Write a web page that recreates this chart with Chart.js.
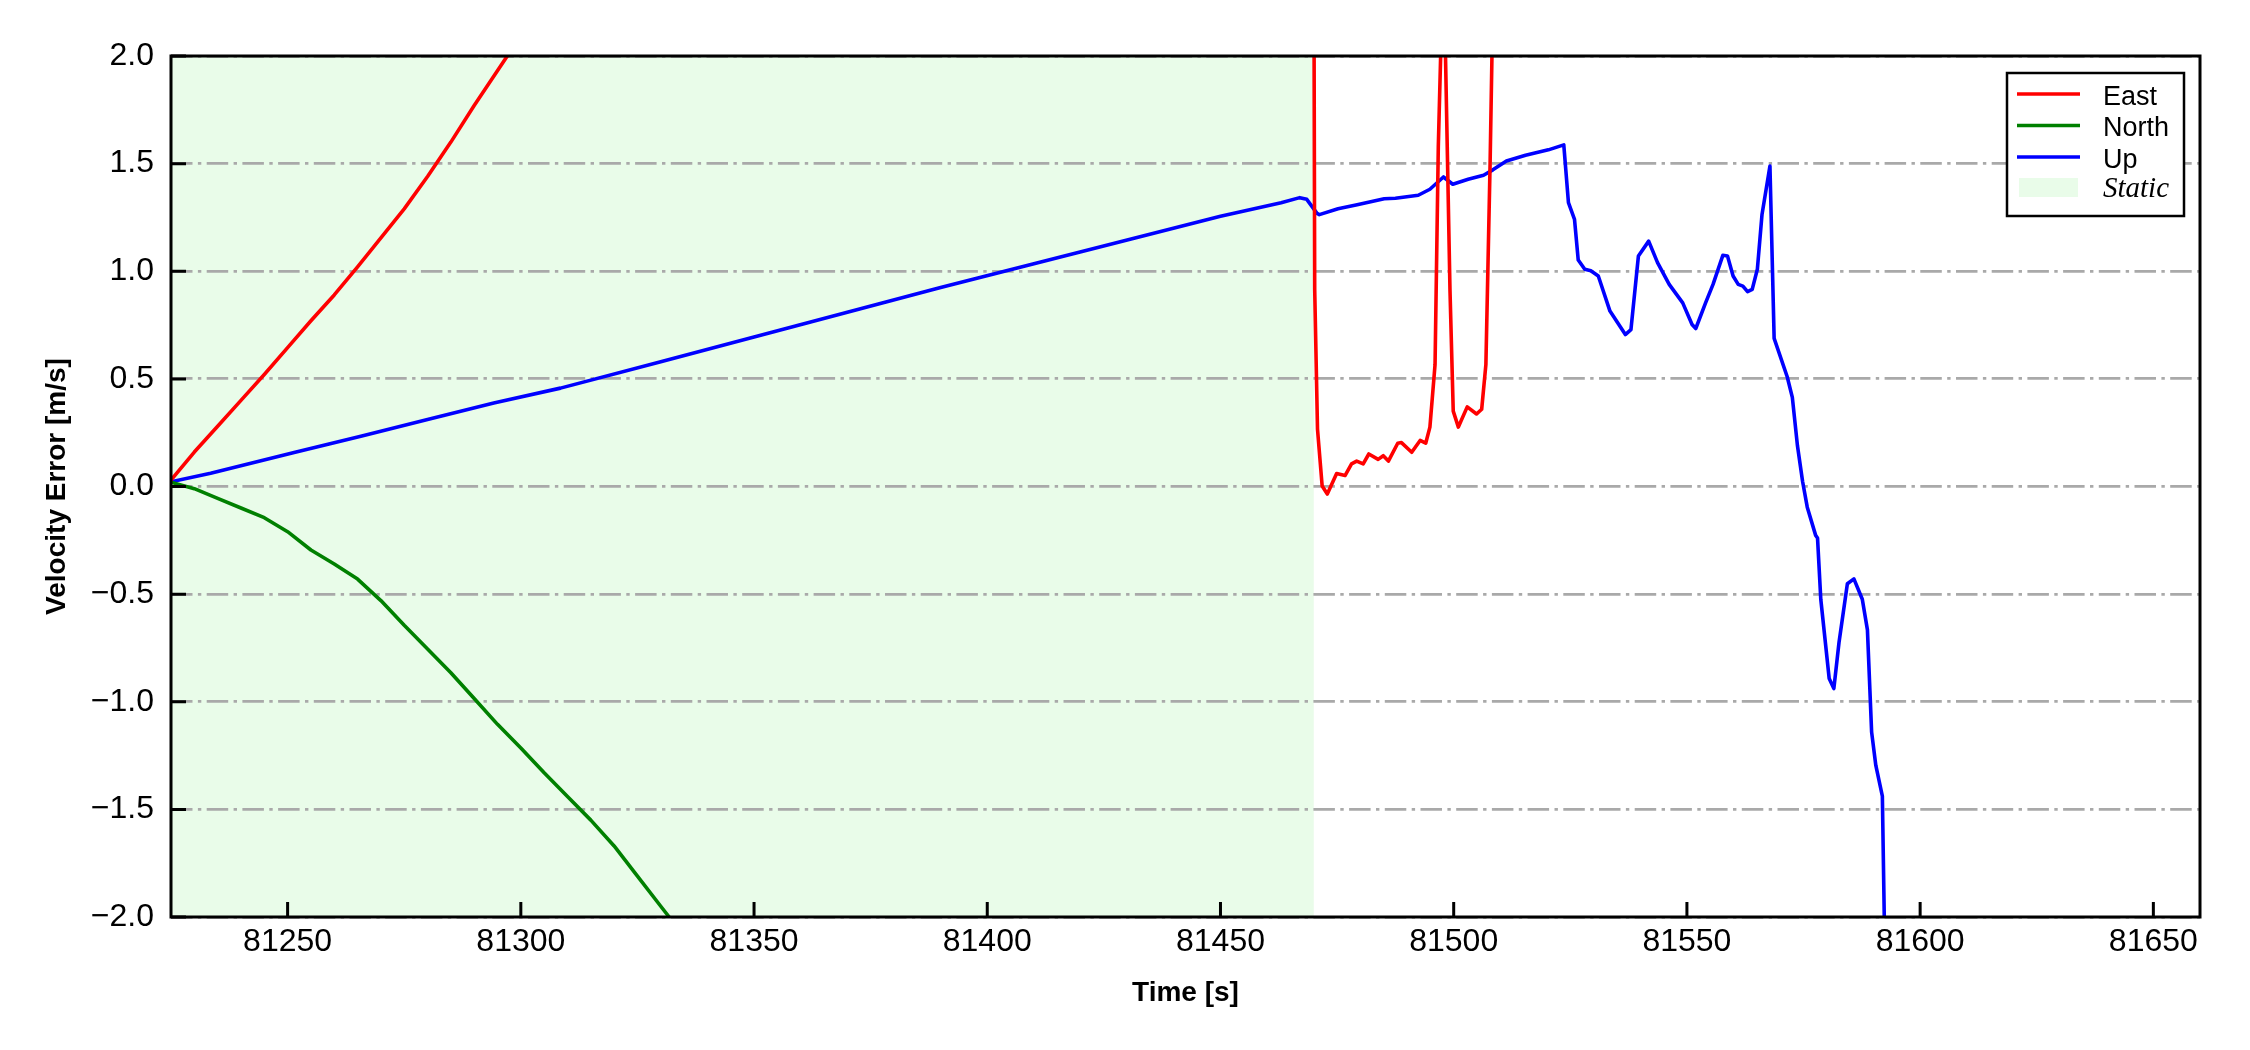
<!DOCTYPE html>
<html>
<head>
<meta charset="utf-8">
<script src="https://cdn.jsdelivr.net/npm/chart.js@4.4.0/dist/chart.umd.min.js"></script>
<style>
  html, body { margin: 0; padding: 0; background: #fff; }
  canvas { display: block; }
</style>
</head>
<body>
<canvas id="myChart" width="2250" height="1050"></canvas>
<script>
// axis ranges and ticks
var xMin = 81225, xMax = 81660;
var yMin = -2.0, yMax = 2.0;
var xTicks = [81250, 81300, 81350, 81400, 81450, 81500, 81550, 81600, 81650];
var yTicks = [-2.0, -1.5, -1.0, -0.5, 0.0, 0.5, 1.0, 1.5, 2.0];

// static period (shaded)
var staticStart = 81225, staticEnd = 81470;

// East velocity error (values above 2 are off the plot)
var eastTime = [81225, 81230, 81235, 81240, 81245, 81250, 81255, 81260, 81265, 81270,
    81275, 81280, 81285, 81290, 81297.1, 81300, 81469.6, 81470.2, 81470.8, 81471.8,
    81472.9, 81474.9, 81476.7, 81478.1, 81479.2, 81480.6, 81481.8, 81483.8, 81484.9, 81486.0,
    81488.0, 81488.8, 81491.0, 81492.8, 81494.0, 81494.9, 81496.0, 81496.7, 81497.8, 81499.2,
    81499.9, 81501.0, 81502.9, 81504.9, 81506.0, 81506.9, 81507.8, 81509];
var eastVel = [0.03, 0.16, 0.28, 0.40, 0.52, 0.645, 0.77, 0.89, 1.02, 1.155,
    1.29, 1.44, 1.60, 1.77, 2.0, 2.08, 6.0, 0.915, 0.267, 0.002,
    -0.035, 0.06, 0.051, 0.105, 0.118, 0.105, 0.151, 0.126, 0.143, 0.118,
    0.201, 0.204, 0.159, 0.214, 0.201, 0.276, 0.566, 1.58, 2.5, 0.915,
    0.35, 0.276, 0.37, 0.337, 0.359, 0.566, 1.497, 3.0];

// North velocity error
var northTime = [81225, 81230, 81235, 81240, 81245, 81250, 81255, 81260, 81265, 81270,
    81275, 81280, 81285, 81290, 81295, 81300, 81305, 81310, 81315, 81320,
    81325, 81330, 81331.8, 81335];
var northVel = [0.02, -0.01, -0.055, -0.10, -0.145, -0.21, -0.295, -0.36, -0.43, -0.53,
    -0.645, -0.755, -0.865, -0.985, -1.105, -1.215, -1.33, -1.44, -1.55, -1.67,
    -1.81, -1.95, -2.0, -2.1];

// Up velocity error
var upTime = [81225, 81233.5, 81251.4, 81265.7, 81280.0, 81294.2, 81308.5, 81330, 81350, 81370,
    81390, 81410, 81430, 81450, 81463, 81467, 81468.5, 81470.7, 81471.2, 81475.2,
    81479.3, 81485.1, 81487.5, 81492.4, 81494.9, 81497.8, 81499.8, 81503.1, 81506.4, 81508.4,
    81511.3, 81515.4, 81520.3, 81523.6, 81524.6, 81525.9, 81526.7, 81528.1, 81529.4, 81531.0,
    81533.5, 81536.8, 81538.0, 81539.6, 81541.8, 81543.7, 81546.2, 81549.1, 81551.1, 81551.9,
    81554.0, 81555.6, 81557.7, 81558.7, 81559.9, 81561.0, 81562.0, 81563.0, 81564.0, 81565.1,
    81566.1, 81567.8, 81568.7, 81571.5, 81572.6, 81573.7, 81574.8, 81575.8, 81577.6, 81578.0,
    81578.7, 81580.5, 81581.5, 81582.6, 81584.4, 81585.8, 81587.6, 81588.7, 81589.6, 81590.5,
    81591.9, 81592.6];
var upVel = [0.022, 0.062, 0.158, 0.233, 0.311, 0.388, 0.457, 0.58, 0.695, 0.81,
    0.925, 1.035, 1.145, 1.255, 1.318, 1.342, 1.334, 1.269, 1.263, 1.29,
    1.309, 1.337, 1.339, 1.353, 1.381, 1.438, 1.404, 1.427, 1.446, 1.471,
    1.512, 1.539, 1.564, 1.587, 1.319, 1.241, 1.052, 1.009, 1.002, 0.978,
    0.815, 0.706, 0.729, 1.071, 1.14, 1.04, 0.939, 0.853, 0.753, 0.734,
    0.853, 0.939, 1.074, 1.071, 0.978, 0.939, 0.931, 0.905, 0.916, 1.009,
    1.264, 1.489, 0.688, 0.51, 0.414, 0.189, 0.023, -0.096, -0.227, -0.239,
    -0.524, -0.892, -0.939, -0.726, -0.452, -0.429, -0.524, -0.666, -1.141, -1.296,
    -1.438, -2.4];

var fontFamily = "'Liberation Sans', Arial, sans-serif";
var staticColor = '#e9fce9';

function pairUp(ts, vs) {
    return ts.map(function(t, i) { return {x: t, y: vs[i]}; });
}

function fmtY(v) {
    var s = Math.abs(v).toFixed(1);
    return v < 0 ? '\u2212' + s : s;
}

// shading, inward ticks, frame and legend
var decor = {
    id: 'decor',
    beforeDraw: function(chart) {
        var ctx = chart.ctx, a = chart.chartArea, xs = chart.scales.x;
        ctx.save();
        ctx.fillStyle = '#ffffff';
        ctx.fillRect(0, 0, chart.width, chart.height);
        var x0 = xs.getPixelForValue(staticStart);
        var x1 = xs.getPixelForValue(staticEnd);
        ctx.fillStyle = staticColor;
        ctx.fillRect(x0, a.top, x1 - x0, a.bottom - a.top);
        ctx.restore();
    },
    afterDatasetsDraw: function(chart) {
        var ctx = chart.ctx, a = chart.chartArea;
        var xs = chart.scales.x, ys = chart.scales.y;
        ctx.save();
        ctx.strokeStyle = '#000';
        ctx.lineWidth = 3;
        ctx.beginPath();
        yTicks.forEach(function(v) {
            var py = ys.getPixelForValue(v);
            ctx.moveTo(a.left, py);
            ctx.lineTo(a.left + 15, py);
        });
        xTicks.forEach(function(v) {
            var px = xs.getPixelForValue(v);
            ctx.moveTo(px, a.bottom);
            ctx.lineTo(px, a.bottom - 15);
        });
        ctx.stroke();
        ctx.strokeRect(a.left, a.top, a.right - a.left, a.bottom - a.top);
        ctx.restore();
    },
    afterDraw: function(chart) {
        var ctx = chart.ctx;
        var bx = 2007, by = 73, bw = 177, bh = 143;
        ctx.save();
        ctx.fillStyle = '#fff';
        ctx.fillRect(bx, by, bw, bh);
        ctx.strokeStyle = '#000';
        ctx.lineWidth = 2.5;
        ctx.strokeRect(bx, by, bw, bh);
        var rowY = [94, 125.5, 157, 187.5];
        chart.data.datasets.forEach(function(ds, i) {
            ctx.strokeStyle = ds.borderColor;
            ctx.lineWidth = 3.5;
            ctx.beginPath();
            ctx.moveTo(2017, rowY[i]);
            ctx.lineTo(2080, rowY[i]);
            ctx.stroke();
            ctx.fillStyle = '#000';
            ctx.font = '27px ' + fontFamily;
            ctx.textBaseline = 'alphabetic';
            ctx.fillText(ds.label, 2103, rowY[i] + 10.5);
        });
        ctx.fillStyle = staticColor;
        ctx.fillRect(2019, 178, 59, 19);
        ctx.fillStyle = '#000';
        ctx.font = "italic 29px 'Liberation Serif', 'Times New Roman', serif";
        ctx.fillText('Static', 2103, 197);
        ctx.restore();
    }
};

var chartInstance = new Chart(document.getElementById('myChart').getContext('2d'), {
    type: 'line',
    data: {
        datasets: [{
            label: 'East',
            data: pairUp(eastTime, eastVel),
            borderColor: '#ff0000'
        }, {
            label: 'North',
            data: pairUp(northTime, northVel),
            borderColor: '#008000'
        }, {
            label: 'Up',
            data: pairUp(upTime, upVel),
            borderColor: '#0000ff'
        }]
    },
    options: {
        responsive: false,
        animation: false,
        devicePixelRatio: 1,
        layout: { padding: { top: 56, right: 50, bottom: 0, left: 0 } },
        elements: {
            line: { borderWidth: 3.6, tension: 0, fill: false, borderCapStyle: 'butt', borderJoinStyle: 'round' },
            point: { radius: 0, hoverRadius: 0 }
        },
        datasets: { line: { clip: 0 } },
        plugins: {
            legend: { display: false },
            tooltip: { enabled: false }
        },
        scales: {
            x: {
                type: 'linear',
                min: xMin,
                max: xMax,
                afterBuildTicks: function(s) { s.ticks = xTicks.map(function(v) { return {value: v}; }); },
                afterFit: function(s) { s.height = 133; },
                grid: { display: false, drawTicks: false },
                border: { display: false },
                ticks: {
                    color: '#000',
                    font: { family: fontFamily, size: 32 },
                    padding: 6,
                    maxRotation: 0,
                    autoSkip: false,
                    callback: function(v) { return String(v); }
                },
                title: {
                    display: true,
                    text: 'Time [s]',
                    color: '#000',
                    font: { family: fontFamily, size: 28, weight: 'bold' },
                    padding: { top: 0, bottom: 40 }
                }
            },
            y: {
                type: 'linear',
                min: yMin,
                max: yMax,
                afterBuildTicks: function(s) { s.ticks = yTicks.map(function(v) { return {value: v}; }); },
                afterFit: function(s) { s.width = 171; },
                grid: { color: '#a9a9a9', lineWidth: 2.8, drawTicks: false },
                border: { display: false, dash: [21.5, 5.4, 3.4, 5.4], dashOffset: 0 },
                ticks: {
                    color: '#000',
                    font: { family: fontFamily, size: 32 },
                    padding: 17,
                    autoSkip: false,
                    callback: function(v) { return fmtY(v); }
                },
                title: {
                    display: true,
                    text: 'Velocity Error [m/s]',
                    color: '#000',
                    font: { family: fontFamily, size: 28, weight: 'bold' },
                    padding: { top: 40, bottom: 0 }
                }
            }
        }
    },
    plugins: [decor]
});
</script>
</body>
</html>
